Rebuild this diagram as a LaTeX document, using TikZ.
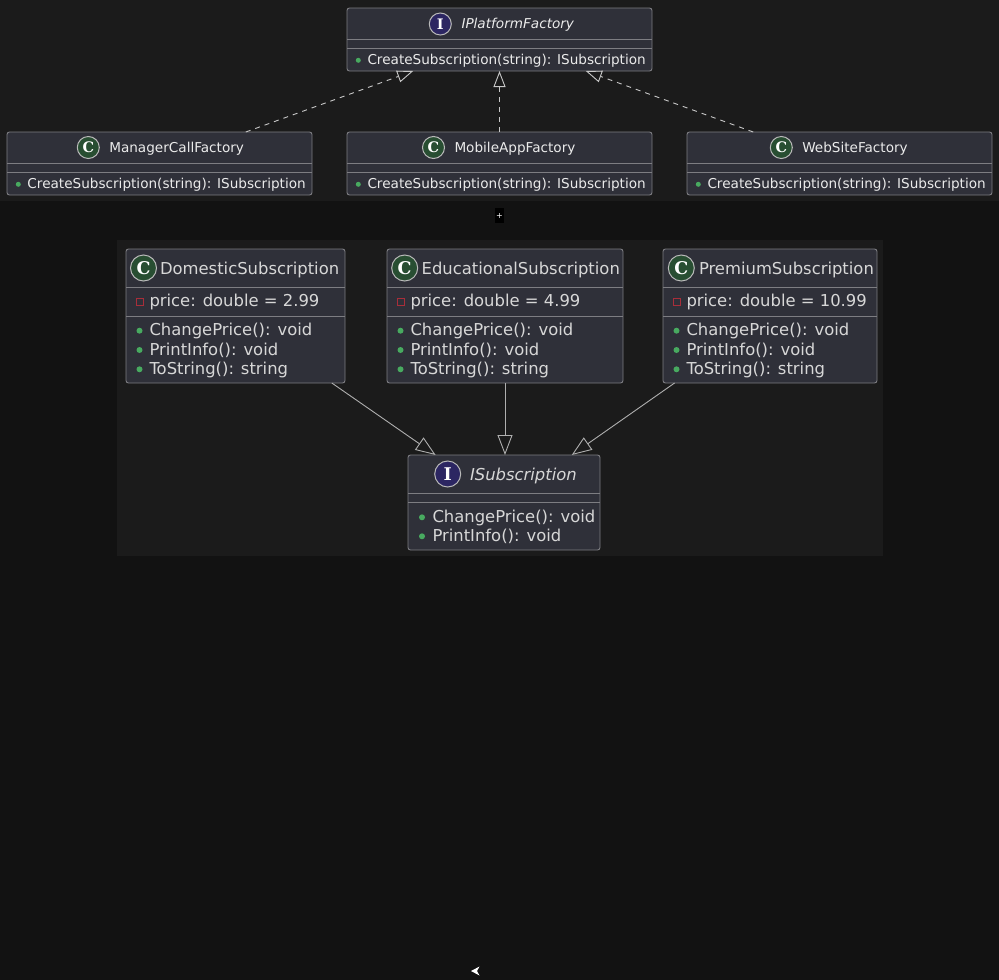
\documentclass[tikz,border=0pt]{standalone}
\usepackage{fontspec}
\setmainfont{DejaVu Sans}
\newfontfamily\badgefont{DejaVu Serif}
\usetikzlibrary{arrows.meta,positioning,calc}

\definecolor{pagebg}{RGB}{18,18,18}
\definecolor{panelbg}{RGB}{27,27,27}
\definecolor{classfill}{RGB}{47,48,57}
\definecolor{classline}{RGB}{125,125,130}
\definecolor{fgtop}{RGB}{235,235,235}
\definecolor{fglow}{RGB}{215,215,215}
\definecolor{badgeline}{RGB}{185,185,185}
\definecolor{badgegreen}{RGB}{40,78,50}
\definecolor{badgepurple}{RGB}{44,38,98}
\definecolor{publicdot}{RGB}{72,170,96}
\definecolor{privatered}{RGB}{168,46,58}
\definecolor{dashgray}{RGB}{200,200,200}
\definecolor{linkgray}{RGB}{175,175,175}

\newcommand{\topfont}{\fontsize{13.6bp}{16bp}\selectfont}
\newcommand{\lowfont}{\fontsize{16.4bp}{19bp}\selectfont}

\begin{document}
\begin{tikzpicture}[
  x=1bp, y=-1bp,
  every node/.style={inner sep=0pt, outer sep=0pt},
  classbox/.style={draw=classline, fill=classfill, rounded corners=2.5bp, line width=.9bp},
  factorybox/.style={classbox, minimum width=305bp, minimum height=63bp},
  subbox/.style={classbox, minimum height=134bp},
  sep/.style={draw=classline, line width=.9bp},
  badge/.style={circle, draw=badgeline, line width=1bp, text=white},
  topbadge/.style={badge, minimum size=22bp, font=\badgefont\bfseries\fontsize{14.5bp}{14bp}\selectfont},
  lowbadge/.style={badge, minimum size=26bp, font=\badgefont\bfseries\fontsize{17.5bp}{17bp}\selectfont},
  toptitle/.style={anchor=base west, text=fgtop, font=\topfont},
  lowtitle/.style={anchor=base west, text=fglow, font=\lowfont},
  pubdot/.style={circle, fill=publicdot},
  privbox/.style={draw=privatered, line width=.9bp, minimum size=7bp},
  realizes/.style={draw=dashgray, line width=.9bp, dash pattern=on 5bp off 5bp, -{Triangle[open, length=16bp, width=12bp]}},
  extends/.style={draw=linkgray, line width=.9bp, -{Triangle[open, length=20bp, width=15bp]}}
]
  \useasboundingbox (0,0) rectangle (999,980);
  \fill[pagebg] (0,0) rectangle (999,980);
  \fill[panelbg] (0,0) rectangle (999,201);
  \fill[panelbg] (117,240) rectangle (883,556);

  % platform factories
  \node[factorybox] (ipf) at (499.5,39.5) {};
  \node[factorybox] (mcf) at (159.5,163.5) {};
  \node[factorybox] (maf) at (499.5,163.5) {};
  \node[factorybox] (wsf) at (839.5,163.5) {};

  \node[topbadge, fill=badgepurple] (ipf-b) at (440.3,24) {I};
  \node[toptitle, font=\topfont\itshape] (ipf-t) at (461.5,28) {IPlatformFactory};
  \node[topbadge, fill=badgegreen] (mcf-b) at (88.3,147.5) {C};
  \node[toptitle] (mcf-t) at (109.3,152) {ManagerCallFactory};
  \node[topbadge, fill=badgegreen] (maf-b) at (433.5,147.5) {C};
  \node[toptitle] (maf-t) at (454.5,152) {MobileAppFactory};
  \node[topbadge, fill=badgegreen] (wsf-b) at (781.3,147.5) {C};
  \node[toptitle] (wsf-t) at (802.3,152) {WebSiteFactory};

  \foreach \n in {ipf,mcf,maf,wsf} {
    \draw[sep] ($(\n.north west)+(0,31)$) -- ($(\n.north east)+(0,31)$);
    \draw[sep] ($(\n.north west)+(0,40)$) -- ($(\n.north east)+(0,40)$);
    \node[pubdot, minimum size=5bp] (\n-d) at ($(\n.north west)+(11.3,52.3)$) {};
    \node[toptitle] (\n-m) at ($(\n.north west)+(20.5,56)$) {CreateSubscription(string): ISubscription};
  }

  \draw[realizes] (mcf) -- (ipf);
  \draw[realizes] (maf) -- (ipf);
  \draw[realizes] (wsf) -- (ipf);

  \node[fill=black, minimum width=9bp, minimum height=15bp, text=white,
        font=\fontsize{8bp}{8bp}\selectfont] (toggle) at (499.5,215.5) {+};

  % subscriptions
  \node[subbox, minimum width=219bp] (dom) at (235.5,316) {};
  \node[subbox, minimum width=236bp] (edu) at (505,316) {};
  \node[subbox, minimum width=214bp] (prem) at (770,316) {};
  \node[classbox, minimum width=192bp, minimum height=95bp] (isub) at (504,502.5) {};

  \node[lowbadge, fill=badgegreen] (dom-b) at (143.5,268) {C};
  \node[lowtitle] (dom-t) at (160,274) {DomesticSubscription};
  \node[lowbadge, fill=badgegreen] (edu-b) at (404.7,268) {C};
  \node[lowtitle] (edu-t) at (421.7,274) {EducationalSubscription};
  \node[lowbadge, fill=badgegreen] (prem-b) at (681.3,268) {C};
  \node[lowtitle] (prem-t) at (699,274) {PremiumSubscription};
  \node[lowbadge, fill=badgepurple] (isub-b) at (447.7,474) {I};
  \node[lowtitle, font=\lowfont\itshape] (isub-t) at (470,480) {ISubscription};

  \foreach \n/\p in {dom/2.99, edu/4.99, prem/10.99} {
    \draw[sep] ($(\n.north west)+(0,38)$) -- ($(\n.north east)+(0,38)$);
    \draw[sep] ($(\n.north west)+(0,67)$) -- ($(\n.north east)+(0,67)$);
    \node[privbox] (\n-a) at ($(\n.north west)+(13.5,53)$) {};
    \node[lowtitle] (\n-at) at ($(\n.north west)+(23.5,57.7)$) {price: double = \p};
    \foreach \m [count=\i] in {ChangePrice(): void, PrintInfo(): void, ToString(): string} {
      \node[pubdot, minimum size=6bp] (\n-d\i) at ($(\n.north west)+(13.5,62.4+19.3*\i)$) {};
      \node[lowtitle] (\n-m\i) at ($(\n.north west)+(23.5,67.4+19.3*\i)$) {\m};
    }
  }

  \draw[sep] ($(isub.north west)+(0,38)$) -- ($(isub.north east)+(0,38)$);
  \draw[sep] ($(isub.north west)+(0,47)$) -- ($(isub.north east)+(0,47)$);
  \foreach \m [count=\i] in {ChangePrice(): void, PrintInfo(): void} {
    \node[pubdot, minimum size=6bp] (isub-d\i) at ($(isub.north west)+(14,43.3+19*\i)$) {};
    \node[lowtitle] (isub-m\i) at ($(isub.north west)+(24.5,48.3+19*\i)$) {\m};
  }

  \draw[extends] (dom) -- (isub);
  \draw[extends] (edu.south) -- (edu.south |- isub.north);
  \draw[extends] (prem) -- (isub);

  \fill[white] (471,971) -- (479.5,966.5) -- (477,971) -- (479.5,975.5) -- cycle;
\end{tikzpicture}
\end{document}
